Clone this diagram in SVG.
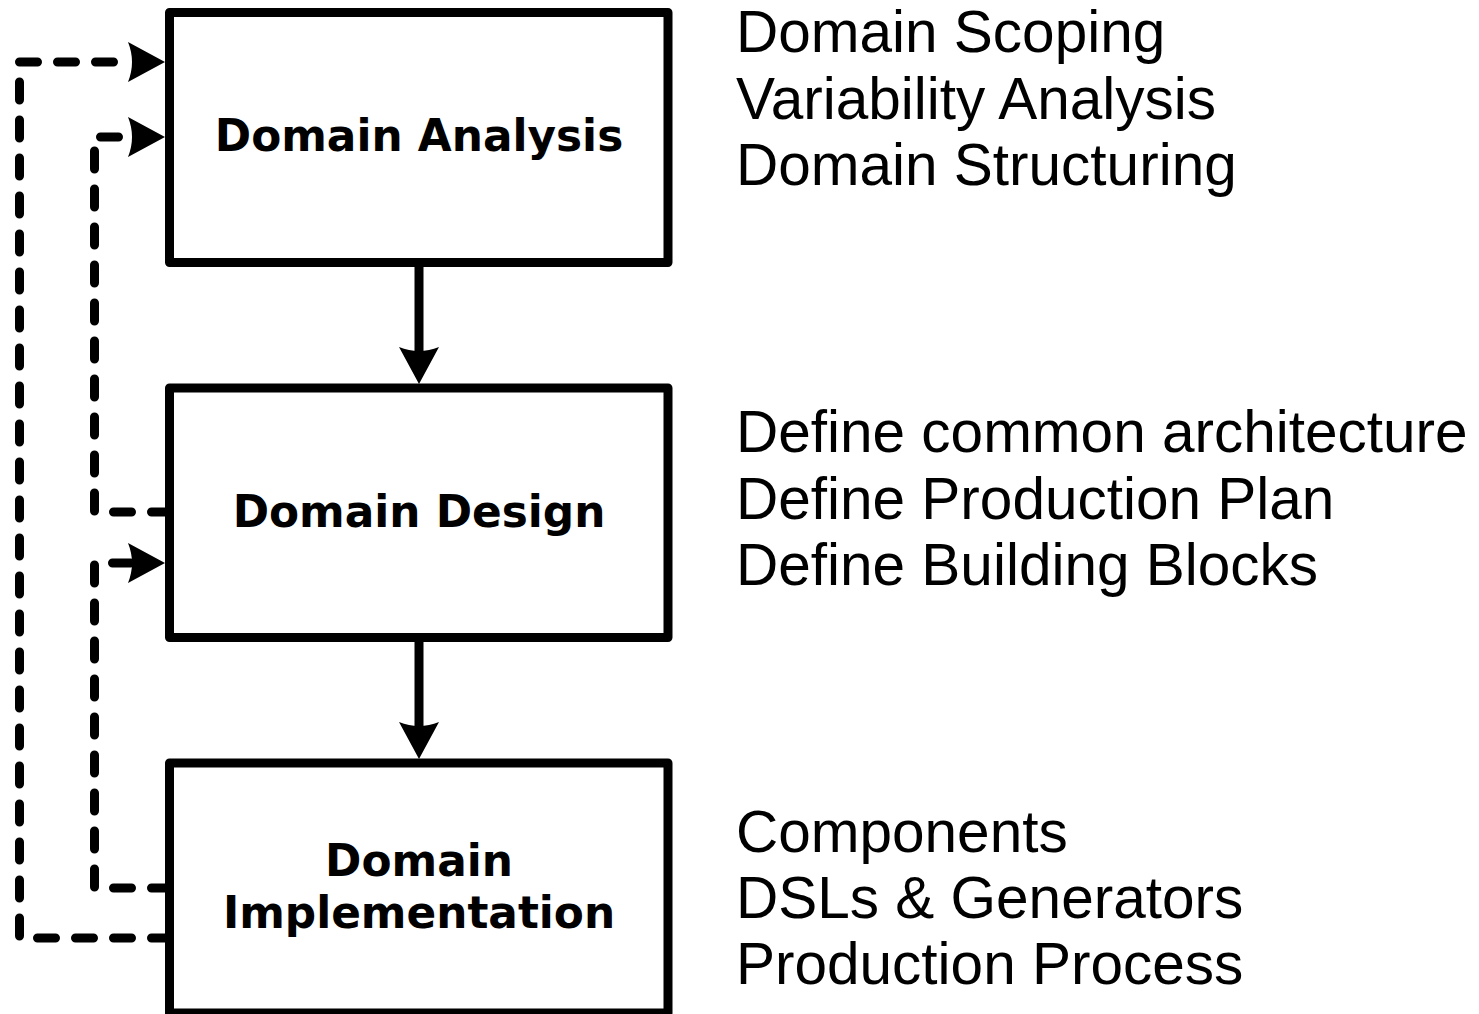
<svg xmlns="http://www.w3.org/2000/svg" width="1479" height="1014" viewBox="0 0 1479 1014">
  <style>
    .box { fill: #ffffff; stroke: #000000; stroke-width: 9; stroke-linejoin: round; }
    .lbl { font-family: "DejaVu Sans", Verdana, sans-serif; font-weight: bold; font-size: 43.8px; fill: #000000; text-anchor: middle; }
    .note { font-family: "Liberation Sans", Arial, sans-serif; font-size: 58.5px; fill: #000000; }
    .dash { fill: none; stroke: #000000; stroke-width: 9; stroke-dasharray: 18 20; stroke-linecap: round; stroke-linejoin: round; }
    .solid { fill: none; stroke: #000000; stroke-width: 9; }
    .head { fill: #000000; stroke: none; }
  </style>
  <defs>
    <path id="ah" d="M0,0 L-37,-20 Q-29,0 -37,20 Z"/>
  </defs>
  <rect width="1479" height="1014" fill="#ffffff"/>

  <g id="connectors">
    <path class="dash" d="M169.5,938 L19.5,938 L19.5,62 L128,62"/>
    <use href="#ah" class="head" transform="translate(165,62)"/>
    <path class="dash" d="M169.5,512 L94.5,512 L94.5,137 L128,137"/>
    <use href="#ah" class="head" transform="translate(165,137)"/>
    <path class="dash" d="M169.5,888 L94.5,888 L94.5,563 L131,563"/>
    <use href="#ah" class="head" transform="translate(165,563)"/>
    <path class="solid" d="M419,262 L419,352"/>
    <use href="#ah" class="head" transform="translate(419,384) rotate(90)"/>
    <path class="solid" d="M419,637.5 L419,727"/>
    <use href="#ah" class="head" transform="translate(419,759) rotate(90)"/>
  </g>

  <g id="domain-analysis">
    <rect class="box" x="169.5" y="12.5" width="498.5" height="250"/>
    <text class="lbl" x="419" y="151">Domain Analysis</text>
  </g>
  <g id="domain-design">
    <rect class="box" x="169.5" y="388" width="498.5" height="249.5"/>
    <text class="lbl" x="419" y="527">Domain Design</text>
  </g>
  <g id="domain-implementation">
    <rect class="box" x="169.5" y="763" width="498.5" height="250"/>
    <text class="lbl" x="419" y="876">Domain</text>
    <text class="lbl" x="419" y="928">Implementation</text>
  </g>

  <g id="notes-analysis">
    <text class="note" x="736" y="52">Domain Scoping</text>
    <text class="note" x="736" y="118.5">Variability Analysis</text>
    <text class="note" x="736" y="185">Domain Structuring</text>
  </g>
  <g id="notes-design">
    <text class="note" x="736" y="452">Define common architecture</text>
    <text class="note" x="736" y="519">Define Production Plan</text>
    <text class="note" x="736" y="585">Define Building Blocks</text>
  </g>
  <g id="notes-implementation">
    <text class="note" x="736" y="852">Components</text>
    <text class="note" x="736" y="918">DSLs &amp; Generators</text>
    <text class="note" x="736" y="984">Production Process</text>
  </g>
</svg>
